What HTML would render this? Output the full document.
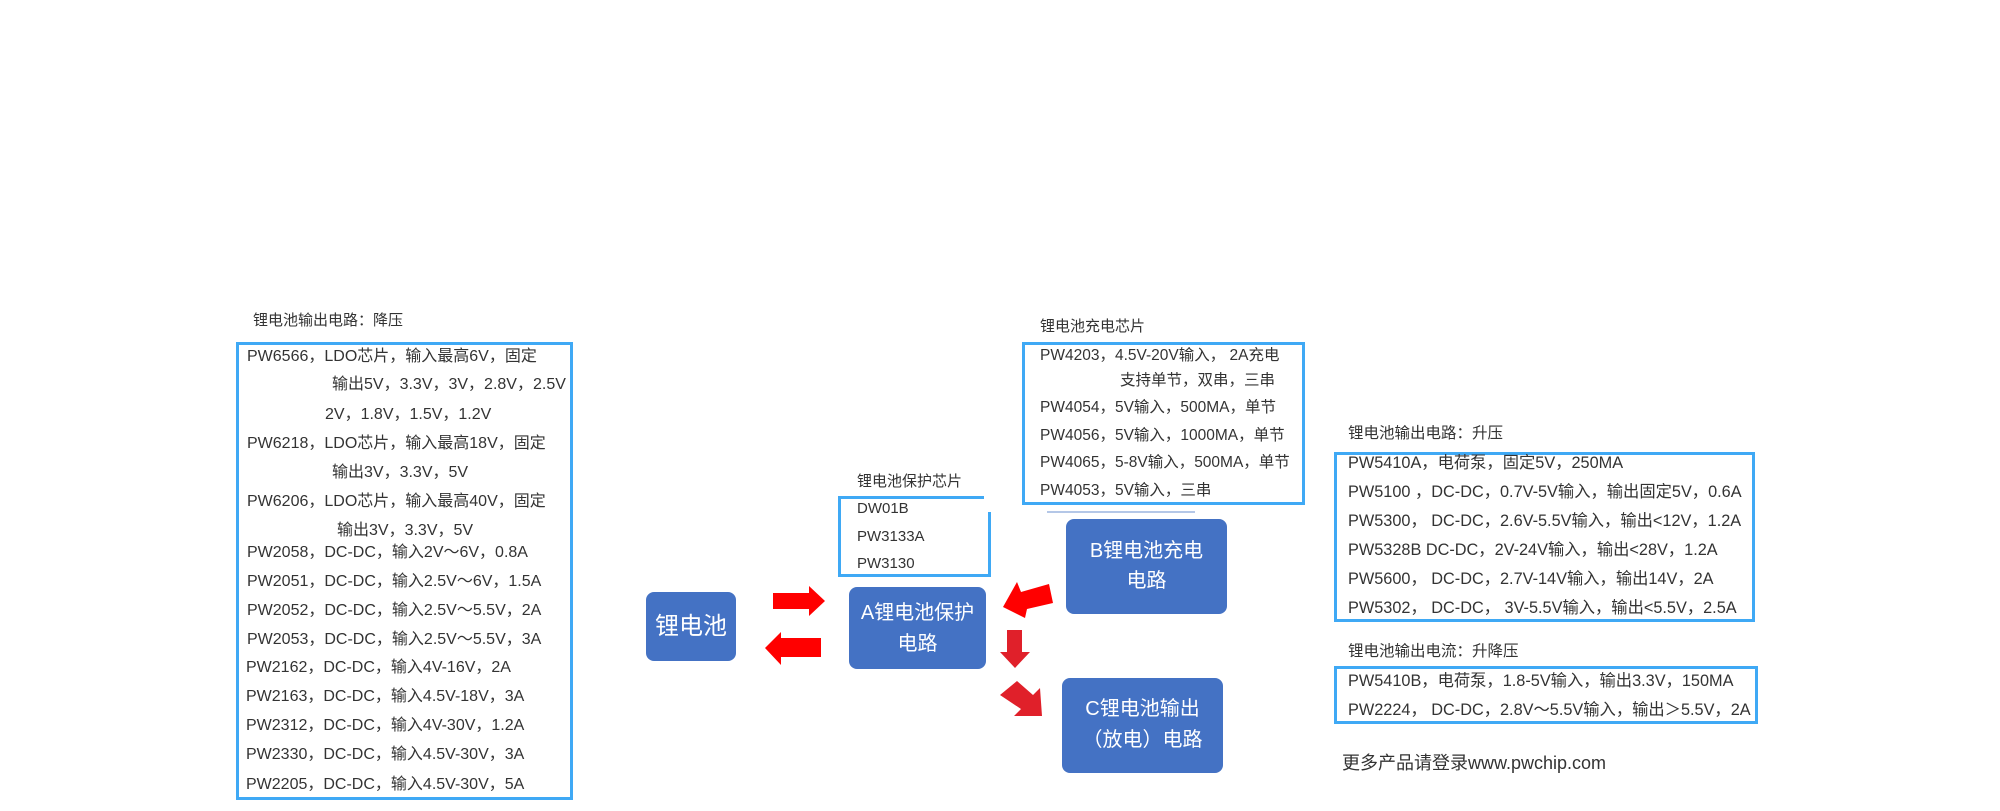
<!DOCTYPE html>
<html><head><meta charset="utf-8"><style>
body{margin:0;width:2000px;height:811px;background:#fff;position:relative;overflow:hidden;font-family:"Liberation Sans","Noto Sans CJK SC",sans-serif;color:#333}
.t{position:absolute;white-space:nowrap;font-size:16px;line-height:20px;height:20px}
.box{position:absolute;border:3px solid #3fa9f5;box-sizing:border-box}
.n{position:absolute;background:#4472c4;border-radius:8px;color:#fff;font-size:20px;text-align:center;box-sizing:border-box}
.r{font-size:16.3px}
</style></head><body>
<div class="t" style="left:253px;top:311px;font-size:15px">锂电池输出电路：降压</div>
<div class="box" style="left:236px;top:342px;width:337px;height:458px"></div>
<div class="t" style="left:247px;top:347px">PW6566，LDO芯片，输入最高6V，固定</div>
<div class="t" style="left:332px;top:375px">输出5V，3.3V，3V，2.8V，2.5V</div>
<div class="t" style="left:325px;top:405px">2V，1.8V，1.5V，1.2V</div>
<div class="t" style="left:247px;top:434px">PW6218，LDO芯片，输入最高18V，固定</div>
<div class="t" style="left:332px;top:463px">输出3V，3.3V，5V</div>
<div class="t" style="left:247px;top:492px">PW6206，LDO芯片，输入最高40V，固定</div>
<div class="t" style="left:337px;top:521px">输出3V，3.3V，5V</div>
<div class="t" style="left:247px;top:543px">PW2058，DC-DC，输入2V～6V，0.8A</div>
<div class="t" style="left:247px;top:572px">PW2051，DC-DC，输入2.5V～6V，1.5A</div>
<div class="t" style="left:247px;top:601px">PW2052，DC-DC，输入2.5V～5.5V，2A</div>
<div class="t" style="left:247px;top:630px">PW2053，DC-DC，输入2.5V～5.5V，3A</div>
<div class="t" style="left:246px;top:658px">PW2162，DC-DC，输入4V-16V，2A</div>
<div class="t" style="left:246px;top:687px">PW2163，DC-DC，输入4.5V-18V，3A</div>
<div class="t" style="left:246px;top:716px">PW2312，DC-DC，输入4V-30V，1.2A</div>
<div class="t" style="left:246px;top:745px">PW2330，DC-DC，输入4.5V-30V，3A</div>
<div class="t" style="left:246px;top:775px">PW2205，DC-DC，输入4.5V-30V，5A</div>

<div class="t" style="left:857px;top:472px;font-size:15px">锂电池保护芯片</div>
<div style="position:absolute;left:838px;top:496px;width:146px;height:3px;background:#3fa9f5"></div>
<div style="position:absolute;left:838px;top:496px;width:3px;height:81px;background:#3fa9f5"></div>
<div style="position:absolute;left:838px;top:574px;width:153px;height:3px;background:#3fa9f5"></div>
<div style="position:absolute;left:988px;top:512px;width:3px;height:65px;background:#3fa9f5"></div>
<div class="t" style="left:857px;top:499px;font-size:15px">DW01B</div>
<div class="t" style="left:857px;top:527px;font-size:15px">PW3133A</div>
<div class="t" style="left:857px;top:554px;font-size:15px">PW3130</div>

<div class="t" style="left:1040px;top:317px;font-size:15px">锂电池充电芯片</div>
<div class="box" style="left:1022px;top:342px;width:283px;height:163px"></div>
<div class="t" style="left:1040px;top:346px;font-size:15.5px">PW4203，4.5V-20V输入， 2A充电</div>
<div class="t" style="left:1120px;top:371px;font-size:15.5px">支持单节，双串，三串</div>
<div class="t" style="left:1040px;top:398px;font-size:15.5px">PW4054，5V输入，500MA，单节</div>
<div class="t" style="left:1040px;top:426px;font-size:15.5px">PW4056，5V输入，1000MA，单节</div>
<div class="t" style="left:1040px;top:453px;font-size:15.5px">PW4065，5-8V输入，500MA，单节</div>
<div class="t" style="left:1040px;top:481px;font-size:15.5px">PW4053，5V输入，三串</div>
<div style="position:absolute;left:1047px;top:511px;width:148px;height:2px;background:#b4c7e7"></div>

<div class="t" style="left:1348px;top:424px;font-size:15.5px">锂电池输出电路：升压</div>
<div class="box" style="left:1334px;top:452px;width:421px;height:170px"></div>
<div class="t r" style="left:1348px;top:453px">PW5410A，电荷泵，固定5V，250MA</div>
<div class="t r" style="left:1348px;top:482px">PW5100 ，DC-DC，0.7V-5V输入，输出固定5V，0.6A</div>
<div class="t r" style="left:1348px;top:511px">PW5300， DC-DC，2.6V-5.5V输入，输出&lt;12V，1.2A</div>
<div class="t r" style="left:1348px;top:540px">PW5328B  DC-DC，2V-24V输入，输出&lt;28V，1.2A</div>
<div class="t r" style="left:1348px;top:569px">PW5600，  DC-DC，2.7V-14V输入，输出14V，2A</div>
<div class="t r" style="left:1348px;top:598px">PW5302，  DC-DC， 3V-5.5V输入，输出&lt;5.5V，2.5A</div>
<div class="t" style="left:1348px;top:642px;font-size:15.5px">锂电池输出电流：升降压</div>
<div class="box" style="left:1334px;top:666px;width:424px;height:58px"></div>
<div class="t r" style="left:1348px;top:671px">PW5410B，电荷泵，1.8-5V输入，输出3.3V，150MA</div>
<div class="t r" style="left:1348px;top:700px">PW2224，  DC-DC，2.8V～5.5V输入，输出＞5.5V，2A</div>
<div class="t" style="left:1342px;top:752px;font-size:18px;line-height:22px">更多产品请登录www.pwchip.com</div>

<div class="n" style="left:646px;top:592px;width:90px;height:69px;font-size:24px;line-height:69px">锂电池</div>
<div class="n" style="left:849px;top:587px;width:137px;height:82px;padding-top:11px;line-height:31px">A锂电池保护<br>电路</div>
<div class="n" style="left:1066px;top:519px;width:161px;height:95px;padding-top:17px;line-height:30px">B锂电池充电<br>电路</div>
<div class="n" style="left:1062px;top:678px;width:161px;height:95px;padding-top:16px;line-height:31px">C锂电池输出<br>（放电）电路</div>

<svg style="position:absolute;left:0;top:0" width="2000" height="811">
<polygon fill="#ff0000" points="773,593 809,593 809,586 825,601 809,616 809,609 773,609"/>
<polygon fill="#ff0000" points="765,648 781,632 781,638 821,638 821,657 781,657 781,665"/>
<polygon fill="#ff0000" points="1003,607 1017,582 1021,592 1049,584 1053,603 1027,609 1025,618"/>
<polygon fill="#e0202a" points="1007,630 1022,630 1022,652 1030,652 1015,668 1000,652 1007,652"/>
<polygon fill="#e0202a" points="1000,695 1017,681 1033,695 1040,688 1042,716 1014,716 1021,709"/>
</svg>
</body></html>
